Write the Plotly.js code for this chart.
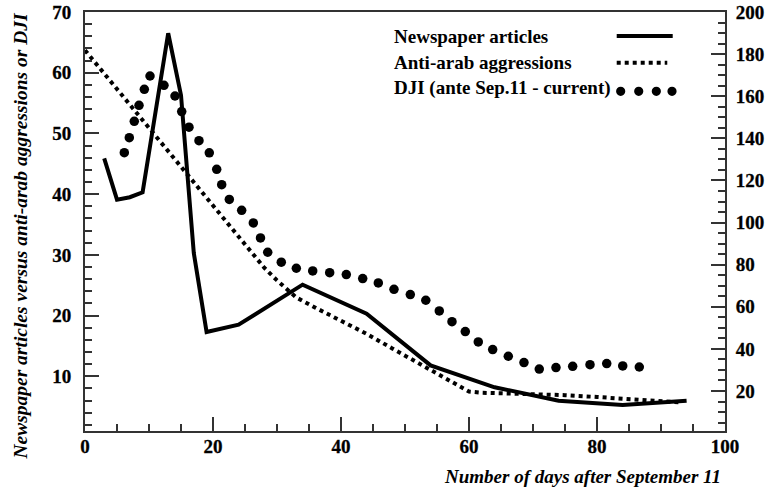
<!DOCTYPE html>
<html>
<head>
<meta charset="utf-8">
<script src="https://cdn.plot.ly/plotly-3.0.1.min.js"></script>
<style>
html,body{margin:0;padding:0;background:#fff;}
#chart{width:772px;height:488px;}
#chart .xtick text, #chart .ytick text, #chart .y2tick text {font-weight:bold !important; stroke:#000; stroke-width:0.3px;}
</style>
</head>
<body>
<div id="chart"></div>
<script>
// ---- data ----
const seriesNames = ["Newspaper articles", "Anti-arab aggressions", "DJI (ante Sep.11 - current)"];

const newsDays = [3, 5, 7, 9, 13, 15, 17, 19, 24, 34, 44, 54, 64, 74, 84, 94];
const newsValues = [45.9, 39.1, 39.5, 40.3, 66.5, 56.3, 30.3, 17.3, 18.5, 25.1, 20.3, 11.8, 8.2, 6.0, 5.3, 6.0];

const aggrDays = [0, 5, 10, 15, 20, 25, 28, 30, 33, 36, 40, 44, 48, 52, 54, 57, 60, 62, 66, 70, 75, 80, 85, 90, 93];
const aggrValues = [63.7, 57.3, 50.9, 44.5, 38.1, 31.7, 27.9, 25.8, 23.0, 21.3, 19.1, 17.0, 14.6, 12.2, 11.0, 9.2, 7.5, 7.3, 7.2, 7.1, 6.9, 6.6, 6.2, 5.8, 5.7];

const djiDays = [6.14, 6.92, 7.70, 8.44, 9.27, 10.16, 12.34, 14.06, 15.11, 16.25, 17.81, 19.42, 20.58, 21.36, 22.55, 24.48, 26.30, 27.42, 28.55, 30.67, 33.02, 35.58, 38.23, 40.83, 43.39, 45.83, 48.28, 50.83, 53.25, 55.36, 57.34, 59.42, 61.45, 63.70, 66.14, 68.59, 70.98, 73.59, 76.20, 78.91, 81.52, 84.02, 86.61];
const djiValues = [133.2, 140.3, 148.1, 155.7, 163.3, 169.6, 165.2, 160.1, 152.7, 145.3, 138.9, 133.1, 125.3, 118.0, 111.0, 105.8, 99.8, 92.7, 85.9, 81.2, 78.3, 77.0, 76.2, 75.3, 73.4, 71.3, 68.3, 65.8, 63.1, 58.0, 52.9, 48.2, 43.3, 39.7, 36.5, 33.5, 30.4, 31.1, 31.7, 32.5, 33.0, 31.9, 31.4];

const xTitle = "Number of days after September 11";
const yTitle = "Newspaper articles versus anti-arab aggressions or DJI";

// ---- styling ----
const FONT = "Liberation Serif, Times New Roman, serif";
const AX = '#333';
const tickFont = {family: FONT, size: 19, weight: 700, color: '#000'};

function axisBase(extra) {
  return Object.assign({
    showgrid: false, zeroline: false,
    showline: true, linewidth: 2, linecolor: AX,
    ticks: 'inside', ticklen: 14, tickwidth: 2, tickcolor: AX,
    tickfont: tickFont, tick0: 0,
    fixedrange: true
  }, extra);
}

const traces = [
  {x: newsDays, y: newsValues, mode: 'lines', name: seriesNames[0],
   line: {color: '#000', width: 4}, yaxis: 'y', showlegend: false},
  {x: aggrDays, y: aggrValues, mode: 'lines', name: seriesNames[1],
   line: {color: '#000', width: 4, dash: 'dot'}, yaxis: 'y', showlegend: false},
  {x: djiDays, y: djiValues, mode: 'markers', name: seriesNames[2],
   marker: {color: '#000', size: 9.5}, yaxis: 'y2', showlegend: false}
];

// legend drawn by hand (text left, sample right)
const legX = 0.4795, legY = [0.9425, 0.879, 0.8194];
const sampX0 = 0.8308, sampX1 = 0.9183;
const annotations = seriesNames.map((t, i) => ({
  text: t, xref: 'paper', yref: 'paper', x: legX, y: legY[i],
  xanchor: 'left', yanchor: 'middle', showarrow: false,
  font: {family: FONT, size: 19, weight: 700, color: '#000'}
}));
annotations.push({
  text: xTitle, xref: 'paper', yref: 'paper', x: 0.9975, y: -0.1085,
  xanchor: 'right', yanchor: 'middle', showarrow: false,
  font: {family: FONT, size: 19, weight: 700, style: 'italic', color: '#000'}
});
annotations.push({
  text: yTitle, xref: 'paper', yref: 'paper', x: -0.1015, y: 0.4665,
  xanchor: 'center', yanchor: 'middle', textangle: -90, showarrow: false,
  font: {family: FONT, size: 19.5, weight: 700, style: 'italic', color: '#000'}
});

const shapes = [
  {type: 'line', xref: 'paper', yref: 'paper', x0: sampX0, x1: sampX1, y0: 0.9425, y1: 0.9425,
   line: {color: '#000', width: 4}},
  {type: 'line', xref: 'paper', yref: 'paper', x0: sampX0, x1: 0.9098, y0: 0.879, y1: 0.879,
   line: {color: '#000', width: 4, dash: 'dot'}}
];
const dotCx = [0.837, 0.8652, 0.8927, 0.9172], dotCy = 0.8106, rx = 4.6 / 640, ry = 4.6 / 419;
dotCx.forEach(cx => shapes.push({
  type: 'circle', xref: 'paper', yref: 'paper',
  x0: cx - rx, x1: cx + rx, y0: dotCy - ry, y1: dotCy + ry,
  fillcolor: '#000', line: {width: 0}
}));

const layout = {
  width: 772, height: 488,
  margin: {l: 85, r: 47, t: 12, b: 57},
  paper_bgcolor: '#fff', plot_bgcolor: '#fff',
  showlegend: false,
  xaxis: axisBase({range: [0, 100], dtick: 20, mirror: true, ticklabelstandoff: -3,
    minor: {dtick: 5, tick0: 0, ticks: 'inside', ticklen: 7, tickwidth: 2, tickcolor: AX, showgrid: false}}),
  yaxis: axisBase({range: [1, 70], dtick: 10, ticklabelstandoff: 8,
    minor: {dtick: 2, tick0: 0, ticks: 'inside', ticklen: 7, tickwidth: 2, tickcolor: AX, showgrid: false}}),
  yaxis2: axisBase({range: [1, 200], dtick: 20, overlaying: 'y', side: 'right', ticklabelstandoff: 5,
    minor: {dtick: 5, tick0: 0, ticks: 'inside', ticklen: 7, tickwidth: 2, tickcolor: AX, showgrid: false}}),
  annotations: annotations,
  shapes: shapes
};

Plotly.newPlot('chart', traces, layout, {displayModeBar: false, staticPlot: true});
</script>
</body>
</html>
